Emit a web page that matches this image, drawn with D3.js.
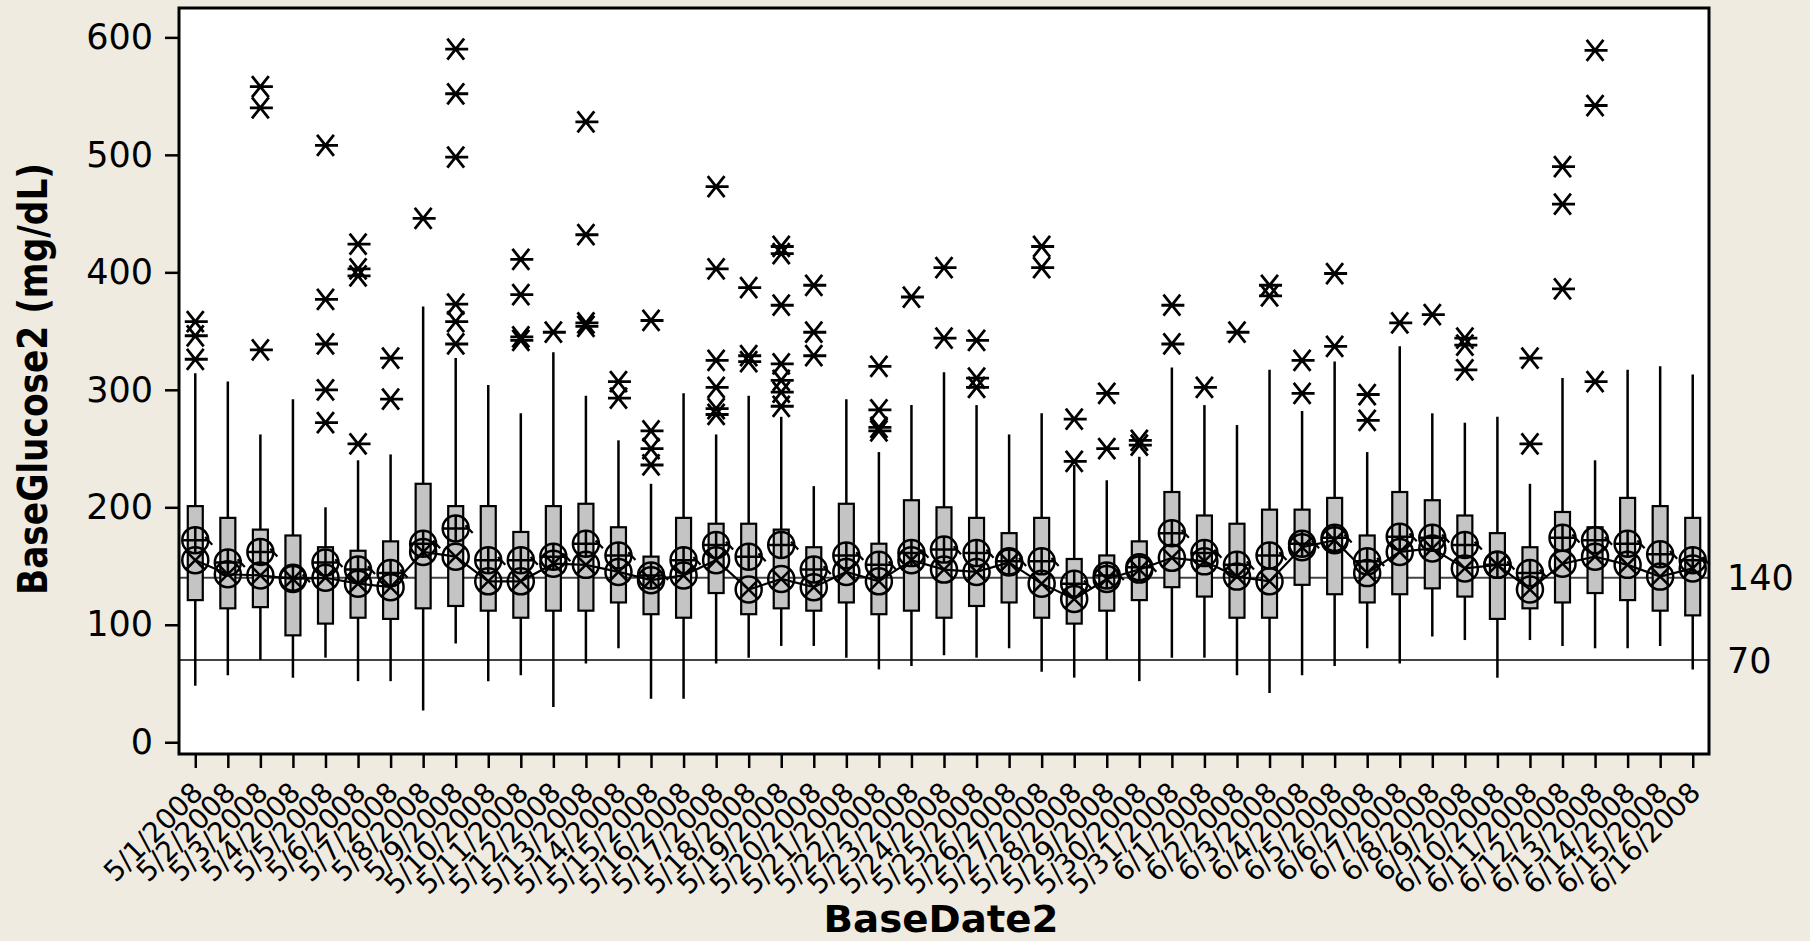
<!DOCTYPE html>
<html>
<head>
<meta charset="utf-8">
<script src="https://cdn.jsdelivr.net/npm/d3@7"></script>
<style>
  html, body { margin: 0; padding: 0; background: #efebe1; }
  svg { display: block; }
  text { font-family: "DejaVu Sans", Verdana, sans-serif; fill: #000; }
</style>
</head>
<body>
<svg id="chart" width="1810" height="941"></svg>
<script>
// ---------------- DATA ----------------
const dates = [
  "5/1/2008","5/2/2008","5/3/2008","5/4/2008","5/5/2008","5/6/2008","5/7/2008","5/8/2008",
  "5/9/2008","5/10/2008","5/11/2008","5/12/2008","5/13/2008","5/14/2008","5/15/2008","5/16/2008",
  "5/17/2008","5/18/2008","5/19/2008","5/20/2008","5/21/2008","5/22/2008","5/23/2008","5/24/2008",
  "5/25/2008","5/26/2008","5/27/2008","5/28/2008","5/29/2008","5/30/2008","5/31/2008",
  "6/1/2008","6/2/2008","6/3/2008","6/4/2008","6/5/2008","6/6/2008","6/7/2008","6/8/2008",
  "6/9/2008","6/10/2008","6/11/2008","6/12/2008","6/13/2008","6/14/2008","6/15/2008","6/16/2008"
];
const whiskerLow = [48,57,70,55,72,52,52,27,84,52,57,30,67,80,37,37,67,72,82,82,72,62,65,74,72,80,60,55,70,52,72,72,57,42,57,65,80,67,90,87,55,87,82,80,80,82,62];
const q1         = [121,114,115,91,101,106,105,114,116,112,106,112,112,119,109,106,127,109,114,112,119,109,112,106,116,119,106,101,112,121,132,124,106,106,134,126,119,126,131,124,105,114,119,127,121,112,108];
const q3         = [201,191,181,176,166,163,171,220,201,201,179,201,203,183,158,191,186,186,181,166,203,169,206,200,191,178,191,156,159,171,213,193,186,198,198,208,176,213,206,193,178,166,196,183,208,201,191];
const whiskerHigh= [314,307,262,292,200,240,245,371,327,304,280,332,295,257,220,297,262,295,277,218,292,247,287,315,287,262,280,236,223,243,319,287,270,317,282,324,247,337,280,272,277,220,310,240,317,320,313];
const means      = [172,153,162,140,153,147,144,169,182,155,155,158,169,159,142,155,168,158,168,147,159,151,161,164,161,154,154,135,142,149,178,161,151,159,169,174,154,175,174,168,151,144,174,172,169,160,155];
const medians    = [155,143,142,139,140,135,132,162,158,137,137,152,151,145,138,142,155,130,139,132,145,137,155,147,145,153,135,122,139,147,157,154,141,137,166,172,144,162,165,148,151,130,152,158,151,141,148];
const outliers   = [
  [358,346,326],[],[558,540,334],[],[508,377,339,300,272],[424,403,397,254],[327,292],[446],
  [590,552,498,373,358,339],[],[411,381,345,342],[349],[528,432,357,354],[307,293],[359,265,250,236],[],
  [473,403,325,302,284,279],[387,329,324],[422,416,372,322,308,298,286],[389,349,329],[],[320,283,268,265],[379],[404,344],
  [342,310,302],[],[422,404],[275,239],[297,250],[257,253],[372,339],
  [302],[349],[389,380],[325,297],[399,337],[296,274],[357],[364],
  [344,338,317],[],[327,254],[490,458,386],[589,542,307],[],[],[]
];
const yTicks = [0,100,200,300,400,500,600];
const refLines = [140, 70];
const xTitle = "BaseDate2";
const yTitle = "BaseGlucose2 (mg/dL)";

// ---------------- LAYOUT ----------------
const W = 1810, H = 941;
const plot = {left: 179, right: 1709, top: 8, bottom: 754};
const svg = d3.select("#chart");

svg.append("rect").attr("x",0).attr("y",0).attr("width",W).attr("height",H).attr("fill","#efebe1");
svg.append("rect").attr("x",plot.left).attr("y",plot.top)
  .attr("width",plot.right-plot.left).attr("height",plot.bottom-plot.top).attr("fill","#ffffff");

const x = d3.scalePoint().domain(dates).range([plot.left, plot.right]).padding(0.5);
const y = d3.scaleLinear().domain([-10, 625]).range([plot.bottom, plot.top]);

// reference lines
const refG = svg.append("g");
refLines.forEach(v => {
  refG.append("line").attr("x1",plot.left).attr("x2",plot.right)
    .attr("y1",y(v)).attr("y2",y(v)).attr("stroke","#444").attr("stroke-width",2);
  refG.append("text").attr("x",1727).attr("y",y(v)).attr("dy","0.36em")
    .attr("font-size",35).text(v);
});

// data table
const rows = dates.map((d,i)=>({d, lo:whiskerLow[i], q1:q1[i], q3:q3[i], hi:whiskerHigh[i],
  mean:means[i], med:medians[i], out:outliers[i]}));

const boxW = 15;
const g = svg.append("g");
// whiskers
g.selectAll(".wh").data(rows).join("line")
  .attr("x1",r=>x(r.d)).attr("x2",r=>x(r.d))
  .attr("y1",r=>y(r.lo)).attr("y2",r=>y(r.hi))
  .attr("stroke","#000").attr("stroke-width",2.5);
// boxes
g.selectAll(".bx").data(rows).join("rect")
  .attr("x",r=>x(r.d)-boxW/2).attr("width",boxW)
  .attr("y",r=>y(r.q3)).attr("height",r=>y(r.q1)-y(r.q3))
  .attr("fill","#c4c4c4").attr("stroke","#000").attr("stroke-width",2.2);

// median connect line
const line = d3.line().x(r=>x(r.d)).y(r=>y(r.med));
g.append("path").datum(rows).attr("d",line).attr("fill","none")
  .attr("stroke","#000").attr("stroke-width",2.2);

const R = 13;
// median symbols (circle with X)
const medG = g.selectAll(".med").data(rows).join("g")
  .attr("transform",r=>`translate(${x(r.d)},${y(r.med)})`);
medG.append("circle").attr("r",R).attr("fill","none").attr("stroke","#000").attr("stroke-width",2.5);
medG.append("path").attr("d",`M${-R*0.7},${-R*0.7}L${R*0.7},${R*0.7}M${-R*0.7},${R*0.7}L${R*0.7},${-R*0.7}`)
  .attr("stroke","#000").attr("stroke-width",2.5);

// mean symbols (circle with plus)
const meanG = g.selectAll(".mean").data(rows).join("g")
  .attr("transform",r=>`translate(${x(r.d)},${y(r.mean)})`);
meanG.append("circle").attr("r",R).attr("fill","none").attr("stroke","#000").attr("stroke-width",2.5);
meanG.append("path").attr("d",`M${-R},0L${R},0M0,${-R}L0,${R}`)
  .attr("stroke","#000").attr("stroke-width",2.5);
meanG.append("path").attr("d",`M${R*0.75},${-R*0.25}L${R+4},${R*0.35}`)
  .attr("stroke","#000").attr("stroke-width",2.2);

// outliers (asterisks)
const outPts = [];
rows.forEach(r => r.out.forEach(v => outPts.push({d:r.d, v})));
const s = 10.5;
g.selectAll(".out").data(outPts).join("path")
  .attr("transform",p=>`translate(${x(p.d)},${y(p.v)})`)
  .attr("d",`M${-s*0.8},${-s}L${s*0.8},${s}M${-s*0.8},${s}L${s*0.8},${-s}M${-s},0L${s+2},0`)
  .attr("fill","none").attr("stroke","#000").attr("stroke-width",2.8);

// frame
svg.append("rect").attr("x",plot.left).attr("y",plot.top)
  .attr("width",plot.right-plot.left).attr("height",plot.bottom-plot.top)
  .attr("fill","none").attr("stroke","#000").attr("stroke-width",3);

// y axis
const yAxis = d3.axisLeft(y).tickValues(yTicks).tickSize(14).tickPadding(12);
const yG = svg.append("g").attr("transform",`translate(${plot.left},0)`).call(yAxis);
yG.select(".domain").remove();
yG.selectAll(".tick line").attr("stroke","#000").attr("stroke-width",2.5);
yG.selectAll(".tick text").attr("font-size",35).attr("font-family","DejaVu Sans, Verdana, sans-serif").attr("fill","#000");

// x axis
const xAxis = d3.axisBottom(x).tickSize(14).tickFormat("");
const xG = svg.append("g").attr("transform",`translate(0,${plot.bottom})`).call(xAxis);
xG.select(".domain").remove();
xG.selectAll(".tick line").attr("stroke","#000").attr("stroke-width",2.5);

svg.append("g").selectAll("text").data(dates).join("text")
  .attr("transform",d=>`translate(${x(d)-5},${780}) rotate(-45)`)
  .attr("text-anchor","end").attr("dy","0.72em")
  .attr("font-size",28).text(d=>d);

// titles
svg.append("text").attr("x",941).attr("y",932).attr("text-anchor","middle")
  .attr("font-weight","bold").attr("font-size",37)
  .attr("textLength",235).attr("lengthAdjust","spacingAndGlyphs").text(xTitle);
svg.append("text").attr("transform","translate(47,379) rotate(-90)").attr("text-anchor","middle")
  .attr("font-weight","bold").attr("font-size",40)
  .attr("textLength",432).attr("lengthAdjust","spacingAndGlyphs").text(yTitle);
</script>
</body>
</html>
